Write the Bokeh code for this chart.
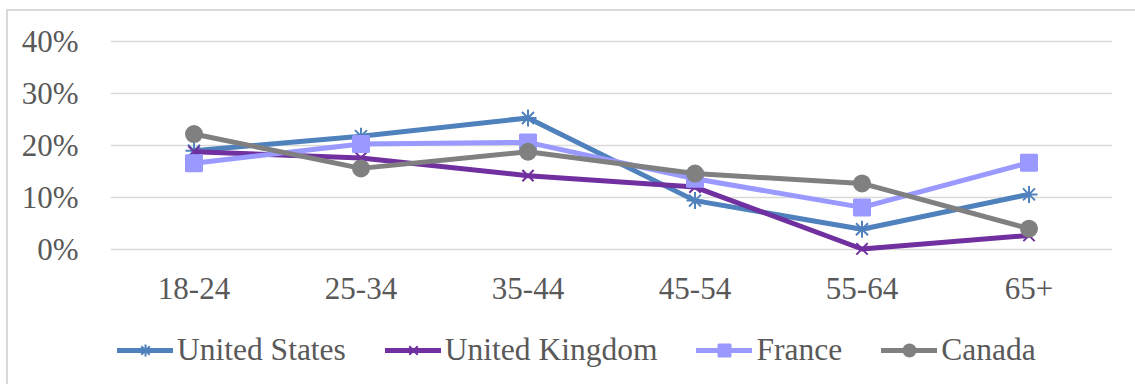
import math
from bokeh.plotting import figure
from bokeh.models import Range1d, FactorRange, FixedTicker, PrintfTickFormatter, Legend, LegendItem
from bokeh.layouts import column
from bokeh.embed import file_html
from bokeh.resources import INLINE

age_groups = ["18-24", "25-34", "35-44", "45-54", "55-64", "65+"]
united_states = [19.0, 21.8, 25.3, 9.4, 3.9, 10.6]
united_kingdom = [18.8, 17.6, 14.2, 12.0, 0.1, 2.7]
france = [16.6, 20.3, 20.6, 13.6, 8.1, 16.7]
canada = [22.2, 15.6, 18.8, 14.6, 12.7, 4.0]
y_ticks = [0, 10, 20, 30, 40]

FONT = "Liberation Serif"
TXT = "#595959"

p = figure(x_range=FactorRange(*age_groups, range_padding=0),
           y_range=Range1d(-4.04, 44.04),
           frame_width=1002, frame_height=250,
           min_border_left=102, min_border_top=9, min_border_right=23, min_border_bottom=50,
           output_backend="svg", toolbar_location=None)
p.outline_line_color = None
p.background_fill_color = "white"
p.border_fill_color = "white"

p.xgrid.grid_line_color = None
p.ygrid.grid_line_color = "#d9d9d9"
p.ygrid.grid_line_width = 1.5
p.yaxis.ticker = FixedTicker(ticks=y_ticks)
p.yaxis.formatter = PrintfTickFormatter(format="%d%%")
for ax in (p.xaxis, p.yaxis):
    ax.axis_line_color = None
    ax.major_tick_line_color = None
    ax.minor_tick_line_color = None
    ax.major_label_text_font = FONT
    ax.major_label_text_font_size = "31px"
    ax.major_label_text_color = TXT
p.yaxis.major_label_standoff = 26
p.xaxis.major_label_standoff = 1

# legend strip below the chart (its frame is aligned with the chart's frame)
lg = figure(x_range=Range1d(0, 1), y_range=Range1d(0, 1),
            width=1127, height=64, min_border=0,
            output_backend="svg", toolbar_location=None)
lg.axis.visible = False
lg.grid.grid_line_color = None
lg.outline_line_color = None
lg.border_fill_color = "white"

series = [
    ("United States", united_states, "#4f81bd", "asterisk", 17),
    ("United Kingdom", united_kingdom, "#7030a0", "x", 16),
    ("France", france, "#9999ff", "square", 16),
    ("Canada", canada, "#808080", "circle", 16),
]

nan = [math.nan]
items = []
for name, vals, color, marker, msize in series:
    p.line(age_groups, vals, line_color=color, line_width=5, line_join="round")
    p.scatter(age_groups, vals, marker=marker, size=msize, fill_color=color,
              line_color=color, line_width=2)
    # legend-only proxy renderers (a single NaN point: nothing drawn)
    ll = lg.line(nan, nan, line_color=color, line_width=5, line_cap="round")
    lm = lg.scatter(nan, nan, marker=marker, size=12, fill_color=color,
                    line_color=color, line_width=2)
    items.append(LegendItem(label=name, renderers=[ll, lm]))

legend = Legend(items=items, orientation="horizontal", location=(7, 16),
                glyph_width=56, glyph_height=30, label_standoff=4, spacing=39,
                padding=0, margin=0, border_line_color=None,
                background_fill_alpha=0,
                label_text_font=FONT, label_text_font_size="31.5px",
                label_text_color=TXT)
lg.add_layout(legend, "center")

layout = column(p, lg, spacing=0)
layout.styles = {"margin-left": "6px", "margin-top": "9px",
                 "border-left": "2px solid #d9d9d9", "border-top": "2px solid #d9d9d9"}

open("out.html", "w").write(file_html(layout, INLINE))
